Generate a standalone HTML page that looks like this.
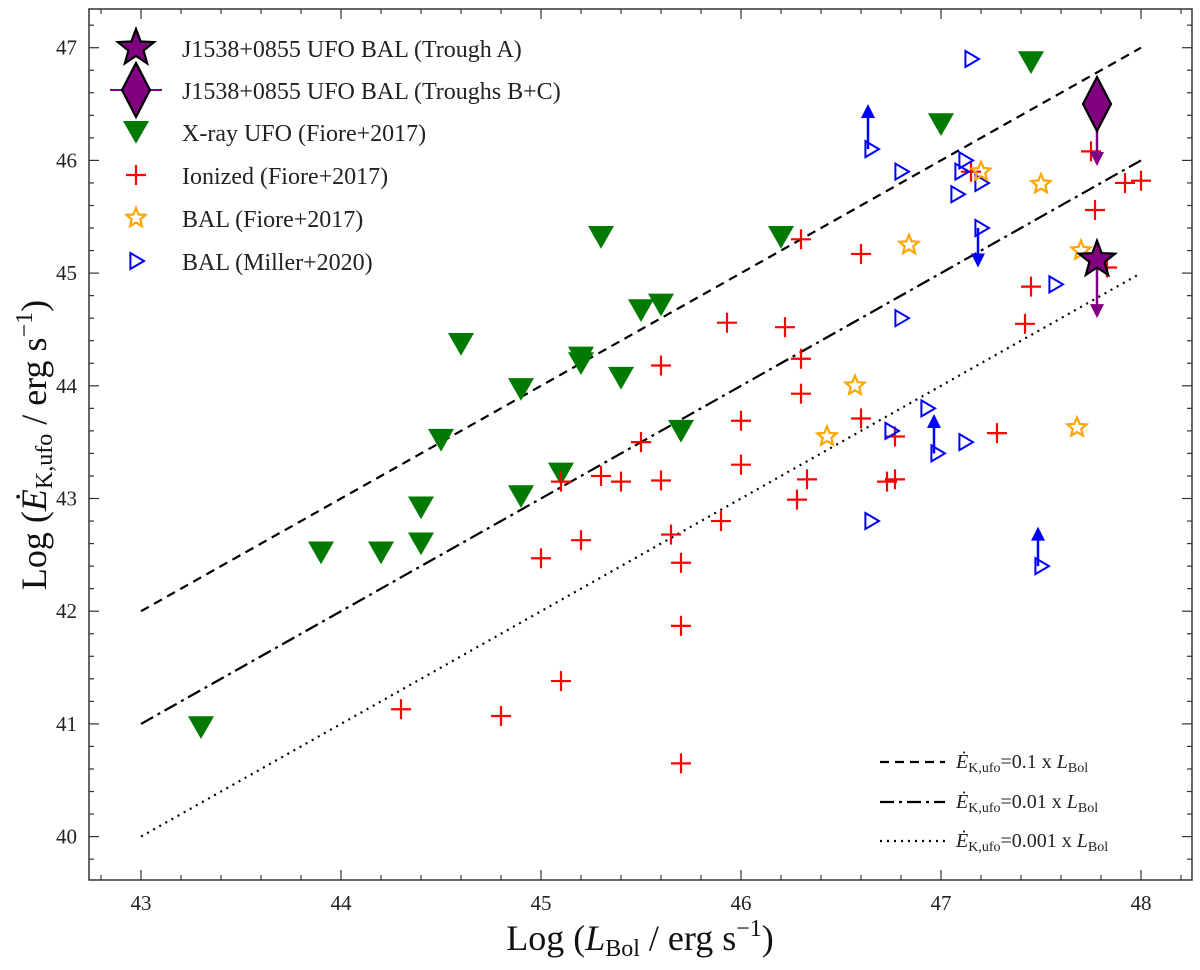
<!DOCTYPE html>
<html><head><meta charset="utf-8"><style>
html,body{margin:0;padding:0;background:#fff}
svg, svg text{font-family:"Liberation Serif","DejaVu Serif",serif}
</style></head><body>
<svg id="chart" width="1200" height="965" viewBox="0 0 1200 965" xmlns="http://www.w3.org/2000/svg" font-family="Liberation Serif, serif"></svg>
<script>
const xTicks=[43,44,45,46,47,48];
const yTicks=[40,41,42,43,44,45,46,47];
const ufoX=[43.3,43.9,44.2,44.4,44.4,44.5,44.6,44.9,44.9,45.1,45.2,45.2,45.3,45.4,45.5,45.6,45.7,46.2,47.0,47.45];
const ufoY=[40.97,42.52,42.52,42.6,42.92,43.52,44.37,43.02,43.97,43.22,44.2,44.25,45.32,44.07,44.67,44.72,43.6,45.32,46.32,46.87];
const ionX=[44.3,44.8,45.0,45.1,45.1,45.2,45.3,45.4,45.5,45.6,45.6,45.65,45.7,45.7,45.7,45.9,45.93,46.0,46.0,46.22,46.28,46.3,46.3,46.3,46.33,46.6,46.6,46.73,46.77,46.77,47.15,47.28,47.42,47.45,47.75,47.77,47.83,47.92,48.0];
const ionY=[41.13,41.07,42.47,41.38,43.15,42.63,43.2,43.15,43.5,43.16,44.18,42.68,42.43,41.87,40.65,42.8,44.56,43.69,43.3,44.52,42.99,43.93,44.24,45.3,43.17,45.17,43.71,43.15,43.17,43.55,45.9,43.58,44.55,44.88,46.08,45.56,45.05,45.8,45.82];
const balFX=[46.43,46.57,46.84,47.2,47.5,47.68,47.7];
const balFY=[43.55,44.0,45.25,45.9,45.79,43.63,45.2];
const balMX=[46.65,46.8,47.12,47.1,47.2,47.08,47.2,47.15,47.57,46.8,46.93,46.75,46.98,47.12,46.65,47.5];
const balMY=[46.1,45.9,46.0,45.9,45.8,45.7,45.4,46.9,44.9,44.6,43.8,43.6,43.4,43.5,42.8,42.4];
const arrIdx=[0,6,12,15];
const arrEnd=[46.5,45.05,43.75,42.75];
const diamond=[47.78,46.5,45.95];
const starA=[47.78,45.12,44.6];
const ratios=[0.1,0.01,0.001];

const svg=document.getElementById('chart');
const NS='http://www.w3.org/2000/svg';
const FONT='Liberation Serif, DejaVu Serif, serif';
const L=89,R=1192,T=9,B=880;
const sx=v=>141+(v-43)*200;
const sy=v=>47.7+(47-v)*112.7;
function el(tag,attrs,parent){const e=document.createElementNS(NS,tag);for(const k in attrs)e.setAttribute(k,attrs[k]);if(tag==='text')e.setAttribute('font-family',FONT);(parent||svg).appendChild(e);return e;}

const frame=el('rect',{x:L,y:T,width:R-L,height:B-T,fill:'none',stroke:'#333','stroke-width':1.5});



const tg=el('g',{stroke:'#333','stroke-width':1.2});


for(let v=42.8;v<=48.41;v+=0.2){const x=sx(v);if(x<L||x>R)continue;const maj=Math.abs(v-Math.round(v))<0.01;const len=maj?10:5;
el('line',{x1:x,y1:B,x2:x,y2:B-len},tg);el('line',{x1:x,y1:T,x2:x,y2:T+len},tg);}
for(let v=39.6;v<=47.41;v+=0.2){const y=sy(v);if(y<T||y>B)continue;const maj=Math.abs(v-Math.round(v))<0.01;const len=maj?10:5;
el('line',{x1:L,y1:y,x2:L+len,y2:y},tg);el('line',{x1:R,y1:y,x2:R-len,y2:y},tg);}
xTicks.forEach(v=>{const t=el('text',{x:sx(v),y:B+30,'text-anchor':'middle','font-size':21,fill:'#222'});t.textContent=v;
});
yTicks.forEach(v=>{const t=el('text',{x:L-12,y:sy(v)+7,'text-anchor':'end','font-size':21,fill:'#222'});t.textContent=v;
});

const xt=el('text',{x:640,y:950,'text-anchor':'middle','font-size':36,fill:'#111'});
xt.innerHTML='Log (<tspan font-style="italic">L</tspan><tspan font-size="24" dy="6">Bol</tspan><tspan dy="-6"> / erg s</tspan><tspan font-size="24" dy="-14">−1</tspan><tspan dy="14">)</tspan>';

const yt=el('text',{x:0,y:0,'text-anchor':'middle','font-size':36,fill:'#111',transform:'translate(46,445) rotate(-90)'});
yt.innerHTML='Log (<tspan font-style="italic">Ė</tspan><tspan font-size="24" dy="6">K,ufo</tspan><tspan dy="-6"> / erg s</tspan><tspan font-size="24" dy="-14">−1</tspan><tspan dy="14">)</tspan>';


const dashes=['9,6','14,5,3,5','2,5'];
ratios.forEach((r,i)=>{const o=Math.log10(r);
const l=el('line',{x1:sx(43),y1:sy(43+o),x2:sx(48),y2:sy(48+o),stroke:'#000','stroke-width':2.2,'stroke-dasharray':dashes[i]});
});

function tri(x,y,s){return `${x-s},${y-s*0.85} ${x+s},${y-s*0.85} ${x},${y+s*0.9}`;}
function starPts(cx,cy,R1,r1){let p=[];for(let i=0;i<10;i++){const a=-Math.PI/2+i*Math.PI/5;const rr=i%2?r1:R1;p.push((cx+rr*Math.cos(a)).toFixed(1)+','+(cy+rr*Math.sin(a)).toFixed(1));}return p.join(' ');}
function plus(x,y,s,g){el('line',{x1:x-s,y1:y,x2:x+s,y2:y,stroke:'#f00','stroke-width':2.2},g);el('line',{x1:x,y1:y-s,x2:x,y2:y+s,stroke:'#f00','stroke-width':2.2},g);}
function rtri(x,y,s,g){return el('polygon',{points:`${x-s*0.7},${y-s} ${x+s},${y} ${x-s*0.7},${y+s}`,fill:'none',stroke:'#00f','stroke-width':2},g);}
function arrow(x,y1,y2,col,g){const dir=y2>y1?1:-1;el('line',{x1:x,y1:y1,x2:x,y2:y2-dir*10,stroke:col,'stroke-width':2.5},g);
el('polygon',{points:`${x-7},${y2-dir*14} ${x+7},${y2-dir*14} ${x},${y2}`,fill:col},g);}

const gU=el('g',{});
ufoX.forEach((v,i)=>{const p=el('polygon',{points:tri(sx(v),sy(ufoY[i]),13),fill:'#007a00'},gU);
});
const gI=el('g',{});
ionX.forEach((v,i)=>plus(sx(v),sy(ionY[i]),10,gI));
const gM=el('g',{});
arrIdx.forEach((k,j)=>arrow(sx(balMX[k])-3,sy(balMY[k]),sy(arrEnd[j]),'#00f',gM));
balMX.forEach((v,i)=>{const p=rtri(sx(v),sy(balMY[i]),8,gM);});
const gF=el('g',{});
balFX.forEach((v,i)=>{const p=el('polygon',{points:starPts(sx(v),sy(balFY[i]),10,4.5),fill:'none',stroke:'#ffa500','stroke-width':2.2},gF);
});
const gJ=el('g',{});
arrow(sx(diamond[0]),sy(diamond[1]),sy(diamond[2]),'#800080',gJ);
arrow(sx(starA[0]),sy(starA[1]),sy(starA[2]),'#800080',gJ);
const dx=sx(diamond[0]),dy=sy(diamond[1]);
const dm=el('polygon',{points:`${dx},${dy-27} ${dx+14},${dy} ${dx},${dy+27} ${dx-14},${dy}`,fill:'#800080',stroke:'#000','stroke-width':2.2},gJ);

const st=el('polygon',{points:starPts(sx(starA[0]),sy(starA[1]),19,8),fill:'#800080',stroke:'#000','stroke-width':2.2},gJ);


const lg=el('g',{});
const labels=['J1538+0855 UFO BAL (Trough A)','J1538+0855 UFO BAL (Troughs B+C)','X-ray UFO (Fiore+2017)','Ionized (Fiore+2017)','BAL (Fiore+2017)','BAL (Miller+2020)'];
const ly=[48,90,132,175,218,261];const mx=136;
el('polygon',{points:starPts(mx,ly[0],19,8),fill:'#800080',stroke:'#000','stroke-width':2.2},lg);
el('line',{x1:110,y1:ly[1],x2:162,y2:ly[1],stroke:'#800080','stroke-width':2},lg);
el('polygon',{points:`${mx},${ly[1]-27} ${mx+14},${ly[1]} ${mx},${ly[1]+27} ${mx-14},${ly[1]}`,fill:'#800080',stroke:'#000','stroke-width':2.2},lg);
el('polygon',{points:tri(mx,ly[2],13),fill:'#007a00'},lg);
plus(mx,ly[3],10,lg);
el('polygon',{points:starPts(mx,ly[4],10,4.5),fill:'none',stroke:'#ffa500','stroke-width':2.2},lg);
rtri(mx,ly[5],8,lg);
labels.forEach((s,i)=>{const t=el('text',{x:182,y:ly[i]+9,'font-size':24,fill:'#222'},lg);t.textContent=s;
});

const lg2=el('g',{});
const l2y=[762,802,841];const rl=['0.1','0.01','0.001'];
rl.forEach((r,i)=>{el('line',{x1:880,y1:l2y[i],x2:945,y2:l2y[i],stroke:'#000','stroke-width':2.2,'stroke-dasharray':dashes[i]},lg2);
const t=el('text',{x:956,y:l2y[i]+6,'font-size':20,fill:'#222'},lg2);
t.innerHTML='<tspan font-style="italic">Ė</tspan><tspan font-size="14" dy="4">K,ufo</tspan><tspan dy="-4">='+r+' x </tspan><tspan font-style="italic">L</tspan><tspan font-size="14" dy="4">Bol</tspan>';
});
</script>
</body></html>
